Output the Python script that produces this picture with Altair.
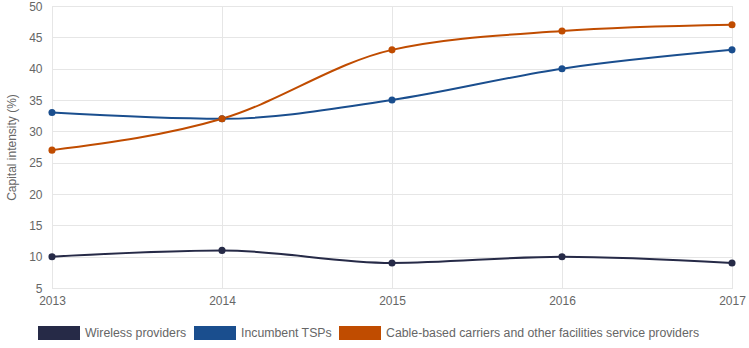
import altair as alt
import pandas as pd

years = [2013, 2014, 2015, 2016, 2017]
wireless = [10, 11, 9, 10, 9]
incumbent = [33, 32, 35, 40, 43]
cable = [27, 32, 43, 46, 47]
series = ["Wireless providers", "Incumbent TSPs",
          "Cable-based carriers and other facilities service providers"]
colors = ["#262a47", "#1a4e8e", "#c04c00"]

rows = []
for name, vals in zip(series, [wireless, incumbent, cable]):
    for y, v in zip(years, vals):
        rows.append({"year": y, "value": v, "series": name})
df = pd.DataFrame(rows)

font = "Liberation Sans"
x = alt.X("year:Q", scale=alt.Scale(domain=[2013, 2017], nice=False),
          axis=alt.Axis(values=years, format="d", title=None, ticks=False,
                        domain=False, labelPadding=7, gridColor="#e6e6e6",
                        labelFlush=False,
                        labelColor="#666666", labelFontSize=12, labelFont=font))
y = alt.Y("value:Q", scale=alt.Scale(domain=[5, 50], nice=False, zero=False),
          axis=alt.Axis(values=list(range(5, 55, 5)), title="Capital intensity (%)",
                        ticks=False, domain=False, labelPadding=10, gridColor="#e6e6e6",
                        labelFlush=False,
                        labelColor="#666666", labelFontSize=12, labelFont=font,
                        titleColor="#666666", titleFontSize=12, titleFont=font,
                        titleFontWeight="normal", titlePadding=10))
color = alt.Color("series:N", scale=alt.Scale(domain=series, range=colors),
                  sort=series,
                  legend=alt.Legend(title=None, orient="none", direction="horizontal",
                                    legendX=-14, legendY=306, padding=0,
                                    symbolType="M-1,-0.333L1,-0.333L1,0.333L-1,0.333Z",
                                    symbolSize=1764, symbolStrokeWidth=0, symbolOpacity=1,
                                    labelOffset=5, columnPadding=7, labelLimit=400,
                                    labelColor="#666666", labelFontSize=12.3, labelFont=font))

base = alt.Chart(df).encode(x=x, y=y, color=color)
lines = base.mark_line(interpolate="monotone", strokeWidth=2)
points = base.mark_circle(size=50, opacity=1)

chart = (lines + points).properties(
    width=680, height=282,
    autosize=alt.AutoSizeParams(type="none"),
    padding={"left": 52, "top": 6, "right": 17, "bottom": 60},
).configure_view(stroke=None).configure(background="white")

chart.save("out.html", embed_options={"renderer": "svg", "actions": False})
